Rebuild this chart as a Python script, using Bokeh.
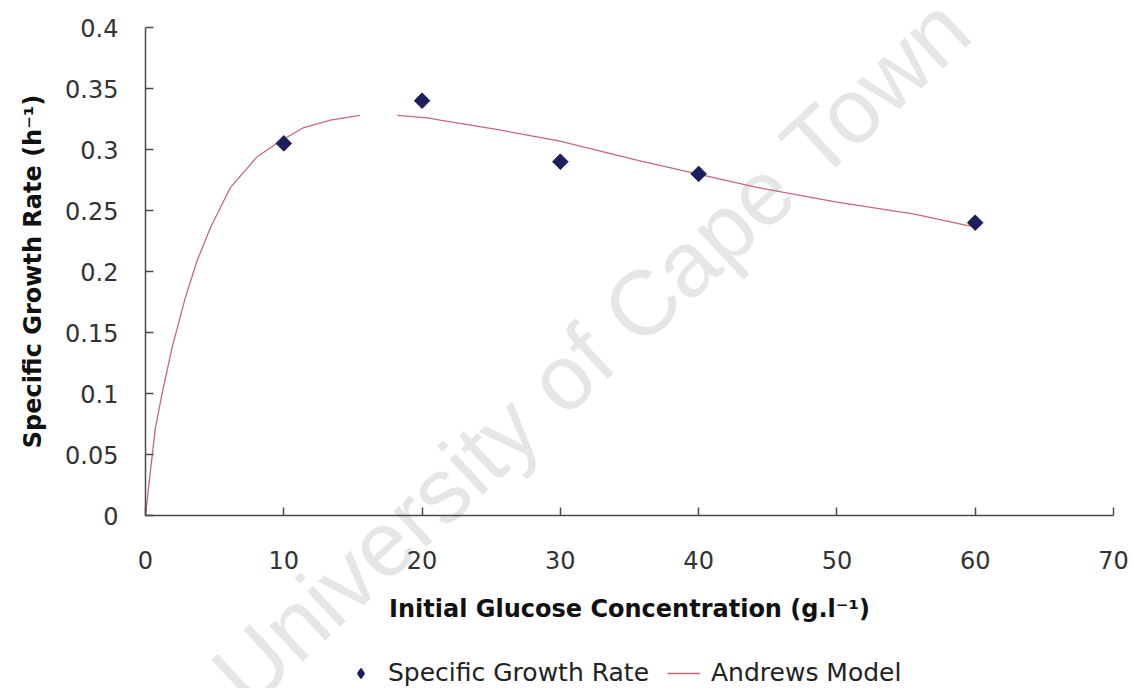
import numpy as np
from bokeh.plotting import figure
from bokeh.models import (Range1d, Legend, LegendItem, Label, FixedTicker,
                          NumeralTickFormatter, LinearAxis)
from bokeh.embed import file_html
from bokeh.resources import INLINE

# Measured specific growth rates (h^-1) at each initial glucose concentration (g/l)
glucose = [10, 20, 30, 40, 60]
growth_rate = [0.305, 0.34, 0.29, 0.28, 0.24]

# Andrews model curve, sampled points (NaN marks the break in the drawn line)
model_glucose = [0, 0.36, 0.72, 1.2, 1.93, 2.89, 3.74, 4.7, 6.15, 8.07, 9.76,
                 11.45, 13.38, 15.5, np.nan, 18.2, 20.4, 21.3, 25.6, 29.9,
                 35.6, 39.9, 44.2, 49.9, 55.6, 59.3, 60]
model_rate = [0, 0.037, 0.072, 0.100, 0.138, 0.179, 0.209, 0.236, 0.269, 0.294,
              0.307, 0.318, 0.324, 0.328, np.nan, 0.328, 0.326, 0.324, 0.316,
              0.307, 0.291, 0.280, 0.269, 0.257, 0.247, 0.238, 0.237]

x_ticks = [0, 10, 20, 30, 40, 50, 60, 70]
y_ticks = [0, 0.05, 0.1, 0.15, 0.2, 0.25, 0.3, 0.35, 0.4]

W, H = 1133, 688
# plot area inside the canvas (pixels): left, right, top, bottom
AX_L, AX_R, AX_T, AX_B = 145, 1113, 27, 515
x_lo, x_hi = x_ticks[0], x_ticks[-1]
y_lo, y_hi = y_ticks[0], y_ticks[-1]
sx = (AX_R - AX_L) / (x_hi - x_lo)
sy = (AX_B - AX_T) / (y_hi - y_lo)

POINT_COLOR = "#1c1f5c"
CURVE_COLOR = "#c4697a"

# the frame spans the whole canvas; axes are pinned at the data origin
p = figure(width=W, height=H, output_backend="svg", toolbar_location=None,
           x_range=Range1d(x_lo - AX_L / sx, x_hi + (W - AX_R) / sx),
           y_range=Range1d(y_lo - (H - AX_B) / sy, y_hi + AX_T / sy),
           x_axis_location=None, y_axis_location=None, min_border=0,
           background_fill_color="white", border_fill_color="white")
p.grid.visible = False
p.outline_line_color = None

xaxis = LinearAxis(fixed_location=0, bounds=(x_lo, x_hi),
                   ticker=FixedTicker(ticks=x_ticks),
                   axis_label="Initial Glucose Concentration (g.l\u207b\u00b9)",
                   major_label_standoff=35, axis_label_standoff=23)
yaxis = LinearAxis(fixed_location=0, bounds=(y_lo, y_hi),
                   ticker=FixedTicker(ticks=y_ticks),
                   formatter=NumeralTickFormatter(format="0.[00]"),
                   axis_label="Specific Growth Rate (h\u207b\u00b9)",
                   major_label_standoff=27, axis_label_standoff=15)
for ax in (xaxis, yaxis):
    ax.axis_line_color = "#4a4a4a"
    ax.axis_line_width = 1.5
    ax.major_tick_line_color = "#4a4a4a"
    ax.major_tick_line_width = 1.5
    ax.major_tick_in = 8
    ax.major_tick_out = 0
    ax.minor_tick_line_color = None
    ax.major_label_text_font = "DejaVu Sans"
    ax.major_label_text_font_size = "24px"
    ax.major_label_text_color = "#333333"
    ax.axis_label_text_font = "DejaVu Sans"
    ax.axis_label_text_font_style = "bold"
    ax.axis_label_text_font_size = "24px"
    ax.axis_label_text_color = "#111111"
p.add_layout(xaxis, "below")
p.add_layout(yaxis, "left")

# faint diagonal watermark behind the data
p.add_layout(Label(x=5.93, y=-0.141, text="University of Cape Town",
                   angle=0.747, text_font="Liberation Sans",
                   text_font_size="92px", text_color="#e6e6e6",
                   text_baseline="alphabetic", level="underlay"))

curve = p.line(np.array(model_glucose), np.array(model_rate),
               line_color=CURVE_COLOR, line_width=1.3)
pts = p.scatter(glucose, growth_rate, marker="square", angle=np.pi / 4,
                size=11, fill_color=POINT_COLOR, line_color=POINT_COLOR)
# legend swatch for the measured points (diamond glyph, nothing plotted)
pts_key = p.scatter(x=np.array([np.nan]), y=np.array([np.nan]),
                    marker="diamond", size=16, line_width=1.5,
                    fill_color=POINT_COLOR, line_color=POINT_COLOR)

legend = Legend(items=[LegendItem(label="Specific Growth Rate", renderers=[pts_key]),
                       LegendItem(label="Andrews Model", renderers=[curve])],
                orientation="horizontal", location=(344, 1),
                border_line_color=None, background_fill_alpha=0,
                padding=0, margin=0, spacing=18, label_standoff=11,
                glyph_width=33, glyph_height=24, label_height=24,
                label_text_font="DejaVu Sans", label_text_font_size="25px",
                label_text_color="#222222")
p.add_layout(legend)

open("out.html", "w").write(file_html(p, INLINE))
